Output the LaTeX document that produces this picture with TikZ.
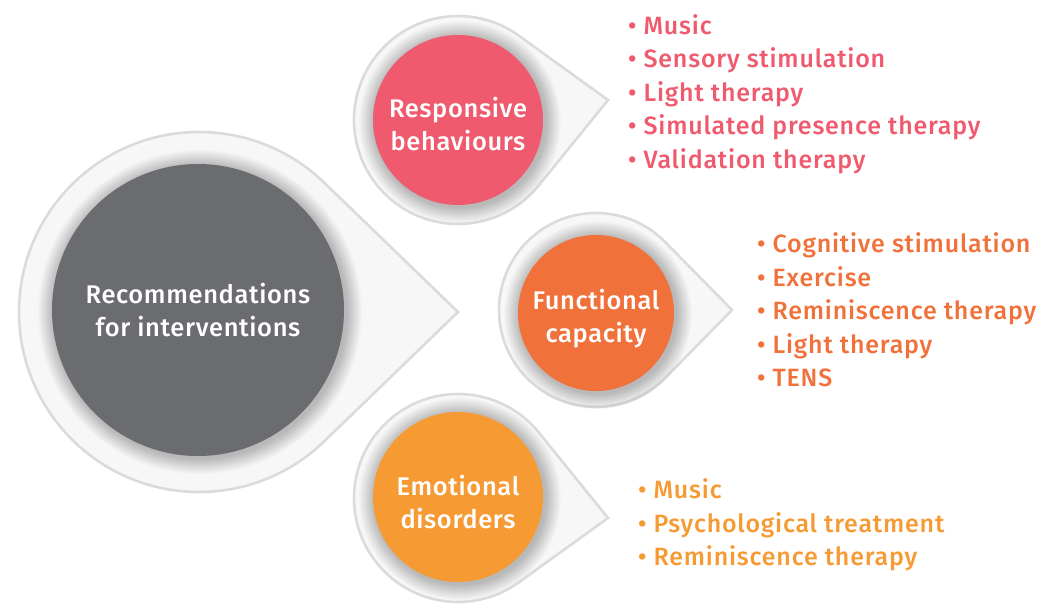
\documentclass[tikz,border=0pt]{standalone}
\usepackage{fontspec}
\setmainfont{Fira Sans Medium}
\newfontfamily\listfont{Fira Sans Medium}[LetterSpace=3.2]
\newfontfamily\discfont{Fira Sans Medium}[LetterSpace=2.5]
\definecolor{greyc}{HTML}{6B6C70}
\definecolor{pinkc}{HTML}{EF5A6E}
\definecolor{redorange}{HTML}{F0713A}
\definecolor{amber}{HTML}{F69A33}
\definecolor{halofill}{HTML}{F7F7F8}
\definecolor{halorim}{HTML}{DADBDE}
\tikzset{
  halo/.style={fill=halofill, draw=halorim, line width=2.6pt, line join=miter},
  disctext/.style={inner sep=0pt, text=white, align=center,
    font=\discfont\fontsize{25.5}{33}\selectfont},
  itemlist/.style={anchor=west, inner sep=0pt, align=left,
    font=\listfont\fontsize{25}{33.4}\selectfont},
}
% teardrop halo: circle centre (#1,#2), radius #3, tip at (#4,#5)
\newcommand{\halodrop}[5]{%
  \pgfmathsetmacro\hdx{#4-#1}%
  \pgfmathsetmacro\hdy{#5-#2}%
  \pgfmathsetmacro\hd{veclen(\hdx,\hdy)}%
  \pgfmathsetmacro\ha{atan2(\hdy,\hdx)}%
  \pgfmathsetmacro\hb{acos(#3/\hd)}%
  \path[halo] (#4,#5) -- ([shift={(\ha+\hb:#3)}]#1,#2)
    arc[start angle=\ha+\hb, end angle=\ha+360-\hb, radius=#3] -- cycle;
}
% soft shadow round a disc of radius #3 centred at (#1,#2)
\newcommand{\discshadow}[3]{%
  \foreach \k in {1,...,16}{
    \fill[black, opacity=0.016] (#1+2,#2+2) circle (#3+\k);
  }
}
\begin{document}
\begin{tikzpicture}[x=1pt, y=-1pt]
\useasboundingbox (0,0) rectangle (1045,603);

% central bubble
\halodrop{199}{312}{180}{458}{312}
\discshadow{198}{310}{146}
\fill[greyc] (198,310) circle (146);
\node[disctext] (main) at (198,310) {Recommendations\\for interventions};

% responsive behaviours
\halodrop{458}{120}{104}{608}{100}
\discshadow{458}{120}{85}
\fill[pinkc] (458,120) circle (85);
\node[disctext] (resp) at (458,124) {Responsive\\behaviours};

% functional capacity
\halodrop{596}{310}{97}{732}{310}
\discshadow{596}{313}{78}
\fill[redorange] (596,313) circle (78);
\node[disctext] (func) at (596,319) {Functional\\capacity};

% emotional disorders
\halodrop{458}{498}{104}{608}{518}
\discshadow{458}{497}{85}
\fill[amber] (458,497) circle (85);
\node[disctext] (emo) at (458,502) {Emotional\\disorders};

% intervention lists
\node[itemlist, text=pinkc] (resplist) at (628,94)
  {• Music\\• Sensory stimulation\\• Light therapy\\• Simulated presence therapy\\• Validation therapy};
\node[itemlist, text=redorange] (funclist) at (757,310)
  {• Cognitive stimulation\\• Exercise\\• Reminiscence therapy\\• Light therapy\\• TENS};
\node[itemlist, text=amber] (emolist) at (638,525)
  {• Music\\• Psychological treatment\\• Reminiscence therapy};
\end{tikzpicture}
\end{document}
